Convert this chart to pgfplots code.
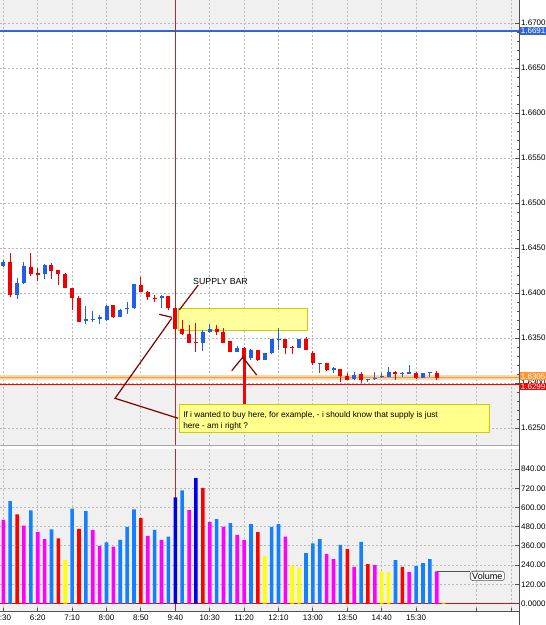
\documentclass[border=0pt]{standalone}
\usepackage{pgfplots}
\pgfplotsset{compat=1.18}
\usepackage{pgfplotstable}
\usepackage{fontspec}
\setmainfont{Liberation Sans}
\definecolor{bggray}{RGB}{240,240,240}
\definecolor{gridc}{RGB}{185,185,185}
\definecolor{upc}{RGB}{30,96,235}
\definecolor{dnc}{RGB}{240,0,0}
\definecolor{vblue}{RGB}{20,128,255}
\definecolor{vdblue}{RGB}{0,0,230}
\definecolor{vred}{RGB}{255,0,0}
\definecolor{vmag}{RGB}{255,0,255}
\definecolor{vyel}{RGB}{255,255,0}
\definecolor{curs}{RGB}{175,45,45}
\definecolor{annot}{RGB}{128,0,0}
\definecolor{axc}{RGB}{80,80,80}
\definecolor{hblue}{RGB}{50,100,220}
\definecolor{horange}{RGB}{255,150,50}
\definecolor{horangel}{RGB}{255,215,170}
\definecolor{boxy}{RGB}{255,255,140}
\definecolor{boxyb}{RGB}{205,205,0}

\pgfplotstableread{
x o h l c
33 1.64300 1.64370 1.64285 1.64348
35 1.63978 1.64163 1.63930 1.64108
36 1.64108 1.64348 1.64100 1.64304
39 1.64207 1.64322 1.64152 1.64311
45 1.63689 1.63859 1.63656 1.63707
46 1.63696 1.63800 1.63681 1.63711
47 1.63711 1.63756 1.63656 1.63730
48 1.63700 1.63867 1.63689 1.63856
50 1.63737 1.63822 1.63730 1.63811
51 1.63819 1.63896 1.63767 1.63837
52 1.63830 1.64100 1.63826 1.64096
56 1.63941 1.63978 1.63830 1.63967
62 1.63440 1.63589 1.63356 1.63570
63 1.63563 1.63652 1.63560 1.63596
67 1.63348 1.63411 1.63345 1.63385
69 1.63274 1.63374 1.63256 1.63367
71 1.63256 1.63337 1.63252 1.63330
72 1.63330 1.63489 1.63322 1.63485
73 1.63474 1.63615 1.63367 1.63486
76 1.63393 1.63489 1.63389 1.63485
79 1.63210 1.63226 1.63107 1.63222
81 1.63144 1.63174 1.63107 1.63163
84 1.63041 1.63126 1.63033 1.63089
86 1.63030 1.63044 1.63015 1.63042
87 1.63040 1.63126 1.63037 1.63052
88 1.63063 1.63115 1.63052 1.63078
89 1.63070 1.63174 1.63063 1.63126
91 1.63096 1.63126 1.63070 1.63108
92 1.63105 1.63200 1.63100 1.63117
94 1.63052 1.63115 1.63052 1.63107
95 1.63107 1.63126 1.63070 1.63119
}\upcandles

\pgfplotstableread{
x o h l c
34 1.64348 1.64441 1.63952 1.63978
37 1.64293 1.64448 1.64189 1.64211
38 1.64226 1.64274 1.64137 1.64200
40 1.64311 1.64330 1.64152 1.64244
41 1.64256 1.64260 1.64089 1.64207
42 1.64211 1.64219 1.64055 1.64059
43 1.64052 1.64055 1.63811 1.63941
44 1.63941 1.63967 1.63674 1.63681
49 1.63867 1.63870 1.63719 1.63730
53 1.64089 1.64174 1.64010 1.64015
54 1.64015 1.64026 1.63922 1.63952
55 1.63948 1.63978 1.63904 1.63936
57 1.63967 1.63970 1.63811 1.63830
58 1.63830 1.63848 1.63478 1.63596
59 1.63596 1.63700 1.63533 1.63544
60 1.63544 1.63644 1.63441 1.63448
61 1.63452 1.63663 1.63348 1.63440
64 1.63596 1.63644 1.63533 1.63563
65 1.63563 1.63607 1.63441 1.63448
66 1.63467 1.63470 1.63345 1.63348
68 1.63385 1.63404 1.63270 1.63274
70 1.63367 1.63370 1.63248 1.63256
74 1.63485 1.63489 1.63322 1.63393
75 1.63405 1.63407 1.63322 1.63393
77 1.63490 1.63507 1.63365 1.63370
78 1.63330 1.63356 1.63200 1.63219
80 1.63219 1.63226 1.63137 1.63144
82 1.63152 1.63155 1.63015 1.63078
83 1.63078 1.63107 1.63030 1.63033
85 1.63100 1.63126 1.62996 1.63033
90 1.63126 1.63130 1.63033 1.63100
93 1.63115 1.63126 1.63041 1.63052
96 1.63107 1.63137 1.63033 1.63052
}\dncandles

\pgfplotstableread{
x v
34 640
37 582
40 464
43 593
45 578
48 383
50 398
51 479
52 589
55 460
57 418
59 707
64 527
66 502
69 497
72 479
73 497
77 315
78 377
79 402
82 367
85 385
90 272
93 236
94 253
95 278
}\volblue
\pgfplotstableread{
x v
58 663
61 783
}\voldblue
\pgfplotstableread{
x v
35 557
41 408
44 466
53 533
62 723
70 446
83 340
86 247
91 230
}\volred
\pgfplotstableread{
x v
33 522
36 487
38 446
39 402
46 460
47 360
49 356
54 423
56 398
60 584
63 510
65 481
67 429
68 396
74 418
80 311
81 278
84 230
87 241
92 197
96 201
}\volmag
\pgfplotstableread{
x v
42 274
71 298
75 238
76 226
88 201
89 199
97 8
}\volyel

\pgfplotsset{
  commonx/.style={
    scale only axis, width=389.475pt,
    xmin=32.52, xmax=108,
    xtick={33,38,43,48,53,58,63,68,73,78,83,88,93,101.85,106.8},
    clip=false,
    axis line style={draw=none},
    tick align=inside,
    grid=major,
    major grid style={gridc, line width=0.75pt, dash pattern=on 1.5pt off 1.5pt},
    tick label style={font=\fontsize{6}{7}\selectfont, text=black},
    major tick style={axc, line width=0.75pt},
    minor tick style={axc, line width=0.75pt},
  }
}

\begin{document}
\begin{tikzpicture}
\path[use as bounding box] (0,0) rectangle (409.5pt,-468.75pt);

% ---------------- price panel background (shading only) ----------------
\begin{axis}[
  at={(0pt,0pt)}, anchor=north west,
  scale only axis, width=389.475pt, height=333.75pt,
  xmin=32.52, xmax=108, ymin=1.623111, ymax=1.672556,
  hide axis,
]
\addplot[draw=none, fill=bggray]
  coordinates {(32.52,1.6691) (108,1.6691) (108,1.672556) (32.52,1.672556) (32.52,1.6691)};
\addplot[draw=none, fill=bggray]
  coordinates {(32.52,1.623111) (108,1.623111) (108,1.6299) (32.52,1.6299) (32.52,1.623111)};
\end{axis}

% ---------------- price panel ----------------
\begin{axis}[commonx,
  at={(0pt,0pt)}, anchor=north west,
  height=333.75pt,
  ymin=1.623111, ymax=1.672556,
  xticklabels={},
  major x tick style={draw=none},
  ytick={1.625,1.63,1.635,1.64,1.645,1.65,1.655,1.66,1.665,1.67},
  yticklabels={1.6250,1.6300,1.6350,1.6400,1.6450,1.6500,1.6550,1.6600,1.6650,1.6700},
  minor y tick num=4,
  ytick pos=right,
  major tick length=3.5pt, minor tick length=2pt,
  yticklabel style={anchor=west, inner xsep=1.2pt},
]
% horizontal level lines
\addplot[hblue, line width=1.1pt] coordinates {(32.52,1.6691) (108,1.6691)};
\addplot[horangel, line width=3.6pt] coordinates {(32.52,1.63065) (108,1.63065)};
\addplot[horange, line width=0.6pt] coordinates {(32.52,1.63065) (108,1.63065)};
\addplot[vred, line width=0.8pt] coordinates {(32.52,1.62985) (108,1.62985)};

% cursor line
\addplot[curs, line width=1pt] coordinates {(58,1.623111) (58,1.672556)};

% supply zone box
\draw[boxyb, line width=0.75pt, fill=boxy, fill opacity=0.85] (axis cs:58.40,1.638333) rectangle (axis cs:77.27,1.635889);

% wicks
\addplot[draw=none, mark=none, forget plot,
  error bars/.cd, y dir=plus, y explicit, error mark=none,
  error bar style={draw=upc, line width=0.75pt}]
  table[x=x, y=l, y error expr=\thisrow{h}-\thisrow{l}] {\upcandles};
\addplot[draw=none, mark=none, forget plot,
  error bars/.cd, y dir=plus, y explicit, error mark=none,
  error bar style={draw=dnc, line width=0.75pt}]
  table[x=x, y=l, y error expr=\thisrow{h}-\thisrow{l}] {\dncandles};
% bodies
\addplot[draw=none, mark=none, forget plot,
  error bars/.cd, y dir=plus, y explicit, error mark=none,
  error bar style={draw=upc, line width=3pt}]
  table[x=x, y=o, y error expr=\thisrow{c}-\thisrow{o}] {\upcandles};
\addplot[draw=none, mark=none, forget plot,
  error bars/.cd, y dir=plus, y explicit, error mark=none,
  error bar style={draw=dnc, line width=3pt}]
  table[x=x, y=c, y error expr=\thisrow{o}-\thisrow{c}] {\dncandles};

% annotations
\node[anchor=base west, inner sep=0pt, font=\fontsize{6.6}{7}\selectfont] at (axis cs:60.57,1.64100) {SUPPLY BAR};
\draw[annot, line width=0.9pt] (axis cs:61.34,1.640889) -- (axis cs:58.58,1.638111);
\draw[annot, line width=0.9pt] (axis cs:55.67,1.637633) -- (axis cs:57.48,1.637300);
\draw[annot, line width=0.9pt] (axis cs:57.48,1.637189) -- (axis cs:49.24,1.628300) -- (axis cs:58.41,1.626078);
\draw[vred, line width=2.6pt] (axis cs:68.06,1.632889) -- (axis cs:68.06,1.627633);
\draw[annot, line width=0.9pt] (axis cs:66.20,1.631367) -- (axis cs:67.80,1.632856) -- (axis cs:69.83,1.630889);
\draw[boxyb, line width=0.75pt, fill=boxy] (axis cs:58.58,1.627633) rectangle (axis cs:103.64,1.624522);
\node[anchor=base west, inner sep=0pt, font=\fontsize{6.2}{7}\selectfont] at (axis cs:59.12,1.626222) {If i wanted to buy here, for example, - i should know that supply is just};
\node[anchor=base west, inner sep=0pt, font=\fontsize{6.2}{7}\selectfont] at (axis cs:59.12,1.625000) {here - am i right ?};

% axis lines
\draw[axc, line width=0.9pt] (rel axis cs:1,1) -- (rel axis cs:1,0) -- ++(0pt,-3pt);
\draw[gray!70, line width=0.75pt] (rel axis cs:0,0) -- (rel axis cs:1,0);

% right-side price labels
\node[fill=vred, text=white, anchor=west, inner xsep=1pt, inner ysep=0.5pt, font=\fontsize{6}{6}\selectfont] at (axis cs:108,1.62960) {1.6299};
\node[fill=horange, text=white, anchor=west, inner xsep=1pt, inner ysep=1pt, font=\fontsize{6}{6}\selectfont] at (axis cs:108,1.63075) {1.6305};
\node[fill=hblue, text=white, anchor=west, inner xsep=1pt, inner ysep=0.6pt, font=\fontsize{6}{6}\selectfont] at (axis cs:108,1.6691) {1.6691};
\end{axis}

% ---------------- volume panel ----------------
\begin{axis}[commonx,
  at={(0pt,-336.75pt)}, anchor=north west,
  height=121.875pt,
  ymin=-48.6, ymax=964.7,
  axis background/.style={fill=bggray},
  xticklabels={5:30,6:20,7:10,8:00,8:50,9:40,10:30,11:20,12:10,13:00,13:50,14:40,15:30,,},
  xtick pos=bottom,
  ytick={0,120,240,360,480,600,720,840},
  yticklabels={0.0000,120.00,240.00,360.00,480.00,600.00,720.00,840.00},
  ytick pos=right,
  major tick length=3pt,
  yticklabel style={anchor=west, inner xsep=1.2pt},
  xticklabel style={inner ysep=2pt},
]
\addplot[curs, line width=1pt] coordinates {(58,-48.6) (58,964.7)};
\addplot[vred, line width=0.8pt] coordinates {(32.52,0) (108,0)};
\addplot[ybar, bar width=2.7pt, bar shift=0pt, fill=vblue, draw=none] table[x=x,y=v] {\volblue};
\addplot[ybar, bar width=2.7pt, bar shift=0pt, fill=vdblue, draw=none] table[x=x,y=v] {\voldblue};
\addplot[ybar, bar width=2.7pt, bar shift=0pt, fill=vred, draw=none] table[x=x,y=v] {\volred};
\addplot[ybar, bar width=2.7pt, bar shift=0pt, fill=vmag, draw=none] table[x=x,y=v] {\volmag};
\addplot[ybar, bar width=2.7pt, bar shift=0pt, fill=vyel, draw=none] table[x=x,y=v] {\volyel};

\draw[axc, line width=0.6pt] (axis cs:96,201) -- (axis cs:100.83,201);
\node[draw=axc, rounded corners=2pt, fill=white, anchor=north west, inner xsep=1.5pt, inner ysep=1pt, font=\fontsize{6.8}{7}\selectfont] at (axis cs:100.83,204) {Volume};

\draw[axc, line width=0.9pt] (rel axis cs:1,1) -- (rel axis cs:1,0) -- ++(0pt,-11pt);
\draw[axc, line width=0.9pt] (rel axis cs:0,0) -- (rel axis cs:1,0);
\end{axis}
\end{tikzpicture}
\end{document}
